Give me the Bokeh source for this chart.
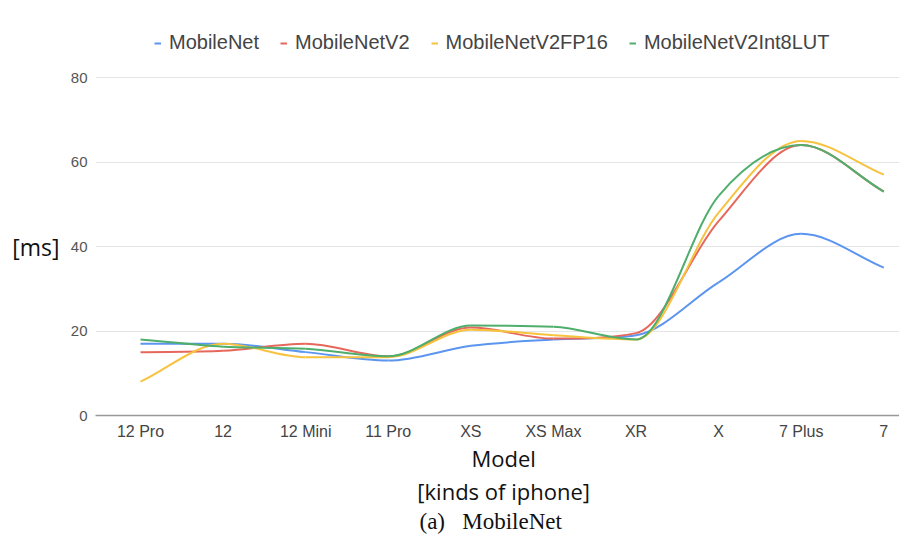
from bokeh.plotting import figure
from bokeh.models import (Range1d, FixedTicker, Legend, LegendItem, LinearAxis,
                          CustomJSTickFormatter)
from bokeh.embed import file_html
from bokeh.resources import INLINE

models = ["12 Pro", "12", "12 Mini", "11 Pro", "XS", "XS Max", "XR", "X", "7 Plus", "7"]
mobilenet = [17, 17, 15, 13, 16.5, 18, 19, 31.5, 43, 35]
mobilenetv2 = [15, 15.3, 17, 14, 20.8, 18.2, 19.5, 46, 64, 53]
mobilenetv2fp16 = [8, 17, 13.8, 13.8, 20.3, 19, 18, 48, 65, 57]
mobilenetv2int8lut = [18, 16.3, 15.8, 14, 21.3, 21, 18, 52, 64, 53]
series_names = ["MobileNet", "MobileNetV2", "MobileNetV2FP16", "MobileNetV2Int8LUT"]
y_ticks = [0, 20, 40, 60, 80]
y_title = "[ms]"
x_title = "Model"
x_subtitle = "[kinds of iphone]"
caption = "(a)\u00a0\u00a0\u00a0MobileNet"

colors = ["#5b95f0", "#e6675c", "#f7c23e", "#4fae6c"]

p = figure(width=899, height=539, output_backend="svg", toolbar_location=None,
           x_range=Range1d(-0.545, 9.19), y_range=Range1d(0, 95.86),
           min_border_left=95, min_border_right=0, min_border_top=10, min_border_bottom=124)
p.outline_line_color = None
p.background_fill_color = "white"


def smooth(xs, ys):
    # cubic Bezier segments with limited (non-overshooting) tangents
    n = len(xs)
    d = [ys[i + 1] - ys[i] for i in range(n - 1)]
    m = [0.0] * n
    m[0] = d[0]
    m[-1] = d[-1]
    for i in range(1, n - 1):
        if d[i - 1] * d[i] <= 0:
            m[i] = 0.0
        else:
            avg = (d[i - 1] + d[i]) / 2.0
            lim = 3 * min(abs(d[i - 1]), abs(d[i]))
            m[i] = max(-lim, min(lim, avg))
    out = dict(x0=[], y0=[], x1=[], y1=[], cx0=[], cy0=[], cx1=[], cy1=[])
    for i in range(n - 1):
        out["x0"].append(xs[i]); out["y0"].append(ys[i])
        out["x1"].append(xs[i + 1]); out["y1"].append(ys[i + 1])
        out["cx0"].append(xs[i] + 1 / 3); out["cy0"].append(ys[i] + m[i] / 3)
        out["cx1"].append(xs[i + 1] - 1 / 3); out["cy1"].append(ys[i + 1] - m[i + 1] / 3)
    return out


xs = list(range(len(models)))
items = []
for name, ys, c in zip(series_names, [mobilenet, mobilenetv2, mobilenetv2fp16, mobilenetv2int8lut], colors):
    r = p.bezier(x0="x0", y0="y0", x1="x1", y1="y1", cx0="cx0", cy0="cy0", cx1="cx1", cy1="cy1",
                 source=smooth(xs, ys), line_color=c, line_width=2)
    items.append(LegendItem(label=name, renderers=[r]))

legend = Legend(items=items, orientation="horizontal", location=(59, 361),
                label_text_font="Liberation Sans", label_text_font_size="20px",
                label_text_color="#444444", glyph_width=7, glyph_height=20,
                label_standoff=8, spacing=21, border_line_color=None,
                padding=0, margin=0, background_fill_alpha=0)
p.add_layout(legend, "center")

# main axes
p.xaxis.ticker = FixedTicker(ticks=xs)
p.xaxis.formatter = CustomJSTickFormatter(args=dict(labels=models), code="return labels[Math.round(tick)] || '';")
p.xaxis.axis_line_color = "#999999"
p.xaxis.axis_line_width = 1.5
p.xaxis.major_tick_line_color = None
p.xaxis.minor_tick_line_color = None
p.xaxis.major_tick_out = 0
p.xaxis.major_tick_in = 0
p.xaxis.major_label_text_font = "Liberation Sans"
p.xaxis.major_label_text_font_size = "16px"
p.xaxis.major_label_text_color = "#444444"
p.xaxis.major_label_standoff = 7

p.yaxis.ticker = FixedTicker(ticks=y_ticks)
p.yaxis.axis_line_color = None
p.yaxis.major_tick_line_color = None
p.yaxis.minor_tick_line_color = None
p.yaxis.major_tick_out = 0
p.yaxis.major_tick_in = 0
p.yaxis.major_label_text_font = "Liberation Sans"
p.yaxis.major_label_text_font_size = "15px"
p.yaxis.major_label_text_color = "#555555"
p.yaxis.major_label_standoff = 8

p.xgrid.grid_line_color = None
p.ygrid.grid_line_color = "#e4e4e4"
p.ygrid.ticker = FixedTicker(ticks=y_ticks)


def text_axis(loc, pos, txt, font, size, standoff):
    ax = LinearAxis(ticker=FixedTicker(ticks=[pos]),
                    formatter=CustomJSTickFormatter(args=dict(t=txt), code="return t;"),
                    axis_line_color=None, major_tick_line_color=None, minor_tick_line_color=None,
                    major_tick_out=0, major_tick_in=0, minor_tick_out=0,
                    major_label_text_font=font, major_label_text_font_size=size,
                    major_label_text_color="#111111", major_label_standoff=standoff)
    p.add_layout(ax, loc)
    return ax


# "[ms]" beside the 40 gridline
text_axis("left", 40, y_title, "Open Sans", "23px", 8)
# titles under the x axis, centred where the reference has them
text_axis("below", 4.397, x_title, "Open Sans", "22px", 0)
text_axis("below", 4.397, x_subtitle, "Open Sans", "22px", 0)
text_axis("below", 4.24, caption, "Liberation Serif", "23px", 0)

open("out.html", "w").write(file_html(p, INLINE))
